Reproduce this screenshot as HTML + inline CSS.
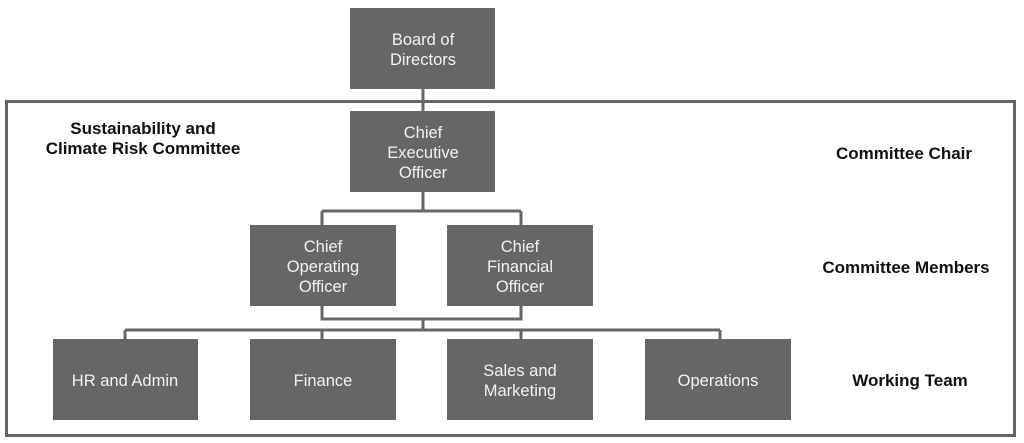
<!DOCTYPE html>
<html><head><style>
html,body{margin:0;padding:0;background:#fff;}
svg{display:block;}
.b{fill:#666;}
.t{fill:#f2f2f2;font-family:"Liberation Sans",sans-serif;font-size:16.5px;text-anchor:middle;}
.k{fill:#111;font-family:"Liberation Sans",sans-serif;font-size:17px;font-weight:bold;text-anchor:middle;}
.l{stroke:#666;stroke-width:3;fill:none;}
</style></head><body>
<svg width="1024" height="443" viewBox="0 0 1024 443">
<rect x="6.5" y="101.5" width="1008" height="334" fill="none" stroke="#666" stroke-width="3"/>
<path class="l" d="M423 89V111 M423 192V211 M322 211H521 M322 211V225 M521 211V225 M322 306V319H521V306 M423 319V330 M125 330H720 M125 330V339 M322 330V339 M521 330V339 M720 330V339"/>
<rect class="b" x="350" y="8" width="145" height="81"/>
<rect class="b" x="350" y="111" width="145" height="81"/>
<rect class="b" x="250" y="225" width="146" height="81"/>
<rect class="b" x="447" y="225" width="146" height="81"/>
<rect class="b" x="53" y="339" width="145" height="81"/>
<rect class="b" x="250" y="339" width="146" height="81"/>
<rect class="b" x="447" y="339" width="146" height="81"/>
<rect class="b" x="645" y="339" width="146" height="81"/>
<text class="t" x="423" y="45">Board of</text><text class="t" x="423" y="65">Directors</text>
<text class="t" x="423" y="138">Chief</text><text class="t" x="423" y="158">Executive</text><text class="t" x="423" y="178">Officer</text>
<text class="t" x="323" y="252">Chief</text><text class="t" x="323" y="272">Operating</text><text class="t" x="323" y="292">Officer</text>
<text class="t" x="520" y="252">Chief</text><text class="t" x="520" y="272">Financial</text><text class="t" x="520" y="292">Officer</text>
<text class="t" x="125" y="386">HR and Admin</text>
<text class="t" x="323" y="386">Finance</text>
<text class="t" x="520" y="376">Sales and</text><text class="t" x="520" y="396">Marketing</text>
<text class="t" x="718" y="386">Operations</text>
<text class="k" x="143" y="134">Sustainability and</text>
<text class="k" x="143" y="154">Climate Risk Committee</text>
<text class="k" x="904" y="159">Committee Chair</text>
<text class="k" x="906" y="273">Committee Members</text>
<text class="k" x="910" y="386">Working Team</text>
</svg>
</body></html>
